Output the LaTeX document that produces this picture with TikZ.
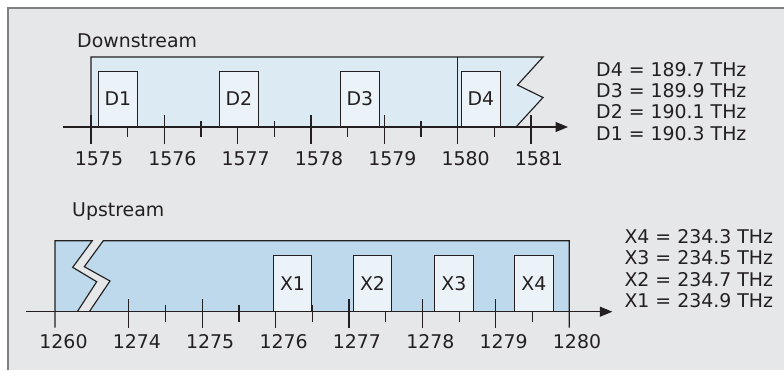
\documentclass[tikz,border=0pt]{standalone}
\usepackage{fontspec}
\setmainfont{DejaVu Sans}
\usetikzlibrary{arrows.meta}
\definecolor{bg}{RGB}{230,231,232}
\definecolor{framec}{RGB}{128,128,128}
\definecolor{ink}{RGB}{35,31,32}
\definecolor{dsblue}{RGB}{220,234,244}
\definecolor{usblue}{RGB}{189,217,235}
\definecolor{chan}{RGB}{235,243,249}
\begin{document}
\begin{tikzpicture}[x=1pt,y=-1pt,line join=miter,
  ln/.style={draw=ink,line width=1.15pt},
  txt/.style={inner sep=0pt,text=ink,font=\fontsize{18.9pt}{21.4pt}\selectfont},
  lab/.style={txt,anchor=base},
  leg/.style={txt,anchor=base west},
  chbox/.style={txt,draw=ink,line width=1.15pt,fill=chan,minimum width=38.5pt,anchor=south west},
  axisarrow/.style={ln,-{Triangle[length=12.5pt,width=10pt]}}]
\useasboundingbox (0,0) rectangle (784,370);
% background panel
\fill[bg] (8,7.7) rectangle (784,370);
\draw[framec,line width=2pt] (8,370) -- (8,7.7) -- (784,7.7);

% ---------------- Downstream ----------------
\node[leg] (dstitle) at (77,47.7) {Downstream};
\filldraw[fill=dsblue,ln] (91,127) -- (91,57) -- (543,57) -- (517.5,85) -- (543,97.5) -- (516,127);
\foreach \k in {0,...,6} \draw[ln] (91+73.33*\k,115) -- (91+73.33*\k,144);
\foreach \k in {0,...,5} \draw[ln] (127.67+73.33*\k,121) -- (127.67+73.33*\k,137.3);
\draw[ln] (457.7,57) -- (457.7,144);
\node[chbox,minimum height=55pt] (d1) at (98,127) {D1};
\node[chbox,minimum height=55pt] (d2) at (219,127) {D2};
\node[chbox,minimum height=55pt] (d3) at (340,127) {D3};
\node[chbox,minimum height=55pt] (d4) at (461,127) {D4};
\coordinate (dsa) at (63,127);
\coordinate (dsb) at (568,127);
\draw[axisarrow] (dsa) -- (dsb);
\foreach \k/\t in {0/1575,1/1576,2/1577,3/1578,4/1579,5/1580,6/1581}
  \node[lab] (dl\t) at (99+73.33*\k,165) {\t};
\node[leg] (dleg4) at (596,76) {D4 = 189.7 THz};
\node[leg] (dleg3) at (596,97.4) {D3 = 189.9 THz};
\node[leg] (dleg2) at (596,118.8) {D2 = 190.1 THz};
\node[leg] (dleg1) at (596,140.2) {D1 = 190.3 THz};

% ---------------- Upstream ----------------
\node[leg] (ustitle) at (72,216) {Upstream};
\fill[usblue] (55,240.7) rectangle (569.3,311.7);
\fill[bg] (92.3,240.7) -- (72.7,267.3) -- (96.7,281.7) -- (77.3,311.7) -- (89.3,311.7) -- (110,281) -- (84.3,266.7) -- (103.3,240.7) -- cycle;
\draw[ln] (55,327.7) -- (55,240.7) -- (92.3,240.7) -- (72.7,267.3) -- (96.7,281.7) -- (77.3,311.7);
\draw[ln] (89.3,311.7) -- (110,281) -- (84.3,266.7) -- (103.3,240.7) -- (569.3,240.7) -- (569.3,327.7);
\foreach \k in {1,...,6} \draw[ln] (55.5+73.36*\k,299) -- (55.5+73.36*\k,327.7);
\foreach \k in {0,...,5} \draw[ln] (165.7+73.36*\k,305.3) -- (165.7+73.36*\k,321.7);
\node[chbox,minimum height=55.7pt] (x1) at (272.7,311.7) {X1};
\node[chbox,minimum height=55.7pt] (x2) at (352.7,311.7) {X2};
\node[chbox,minimum height=55.7pt] (x3) at (434,311.7) {X3};
\node[chbox,minimum height=55.7pt] (x4) at (514,311.7) {X4};
\coordinate (usa) at (26,311.7);
\coordinate (usb) at (612.3,311.7);
\draw[axisarrow] (usa) -- (usb);
\foreach \k/\t in {0/1260,1/1274,2/1275,3/1276,4/1277,5/1278,6/1279,7/1280}
  \node[lab] (ul\t) at (63.5+73.36*\k,348.3) {\t};
\node[leg] (xleg4) at (624.3,243.5) {X4 = 234.3 THz};
\node[leg] (xleg3) at (624.3,264.9) {X3 = 234.5 THz};
\node[leg] (xleg2) at (624.3,286.3) {X2 = 234.7 THz};
\node[leg] (xleg1) at (624.3,307.7) {X1 = 234.9 THz};
\end{tikzpicture}
\end{document}
